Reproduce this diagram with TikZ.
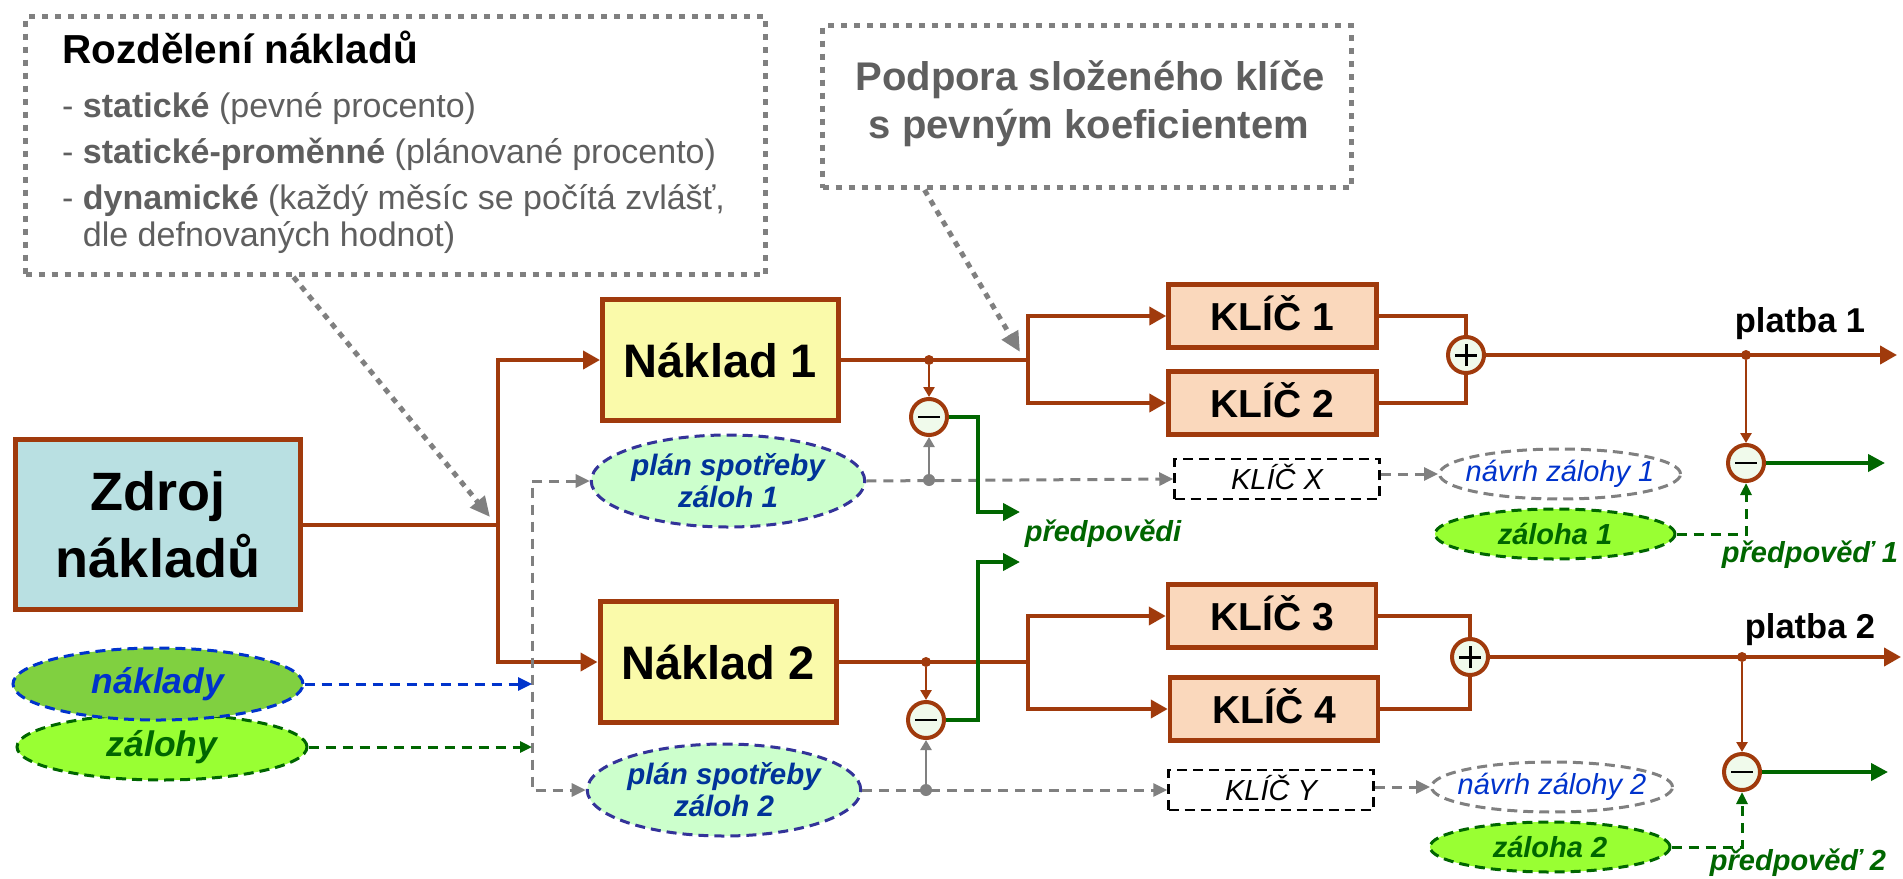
\documentclass[tikz,border=0pt]{standalone}
\usepackage{fontspec}
\setmainfont{Liberation Sans}
\usetikzlibrary{arrows.meta}
\usetikzlibrary{shapes.geometric}

\definecolor{brownc}{RGB}{160,58,12}
\definecolor{zdrojfill}{RGB}{185,224,226}
\definecolor{nakladfill}{RGB}{250,250,170}
\definecolor{klicfill}{RGB}{250,216,188}
\definecolor{planfill}{RGB}{204,255,204}
\definecolor{planedge}{RGB}{51,51,153}
\definecolor{plantext}{RGB}{0,51,153}
\definecolor{nakladyfill}{RGB}{128,208,64}
\definecolor{bluec}{RGB}{0,51,204}
\definecolor{limefill}{RGB}{153,255,51}
\definecolor{greenc}{RGB}{0,102,0}
\definecolor{grayc}{RGB}{128,128,128}
\definecolor{notetext}{RGB}{95,95,95}
\definecolor{circfill}{RGB}{240,250,235}

\tikzset{
box/.style={draw=brownc, line width=5pt, inner sep=0pt, align=center},
zdrojbox/.style={box, fill=zdrojfill, minimum width=285pt, minimum height=170pt, font=\fontsize{54}{67}\selectfont\bfseries},
nakladbox/.style={box, fill=nakladfill, minimum width=236pt, minimum height=121pt, text height=34pt, text depth=0pt, font=\fontsize{47}{56}\selectfont\bfseries},
klicbox/.style={box, line width=4.5pt, fill=klicfill, minimum width=208pt, minimum height=63pt, text height=28pt, text depth=0pt, font=\fontsize{39}{46}\selectfont\bfseries},
klicdash/.style={draw=black, line width=2.5pt, dash pattern=on 10pt off 6pt, fill=white, minimum width=205pt, minimum height=40pt, inner sep=0pt, text height=21pt, text depth=0pt, font=\fontsize{29}{34}\selectfont\itshape},
notebox/.style={draw=grayc, line width=5pt, dash pattern=on 6pt off 7pt},
notetitle/.style={anchor=base west, inner sep=0pt, font=\fontsize{40.5}{48}\selectfont\bfseries},
noteline/.style={anchor=base west, inner sep=0pt, text=notetext, font=\fontsize{34}{40}\selectfont},
podporaline/.style={anchor=base, inner sep=0pt, text=notetext, font=\fontsize{40}{48}\selectfont\bfseries},
plan/.style={ellipse, draw=planedge, fill=planfill, line width=3pt, dash pattern=on 10pt off 6pt, minimum width=269pt, minimum height=92pt, inner sep=0pt, align=center, text=plantext, font=\fontsize{29.5}{32}\selectfont\bfseries\itshape},
nakladyell/.style={ellipse, draw=bluec, fill=nakladyfill, line width=3pt, dash pattern=on 10pt off 6pt, minimum width=290pt, minimum height=72pt, inner sep=0pt, text=bluec, font=\fontsize{35.5}{40}\selectfont\bfseries\itshape},
zalohyell/.style={ellipse, draw=greenc, fill=limefill, line width=3pt, dash pattern=on 10pt off 6pt, minimum width=290pt, minimum height=66pt, inner sep=0pt, text=greenc, font=\fontsize{35.5}{40}\selectfont\bfseries\itshape},
zalohaell/.style={ellipse, draw=greenc, fill=limefill, line width=3pt, dash pattern=on 10pt off 6pt, minimum width=240pt, minimum height=50pt, inner sep=0pt, text=greenc, font=\fontsize{29}{34}\selectfont\bfseries\itshape},
navrhell/.style={ellipse, draw=grayc, fill=white, line width=3pt, dash pattern=on 10pt off 6pt, minimum width=241pt, minimum height=50pt, inner sep=0pt, text=bluec, font=\fontsize{29}{34}\selectfont\itshape},
sumnode/.style={circle, draw=brownc, fill=circfill, line width=4pt, minimum size=36pt, inner sep=0pt},
summinus/.style={sumnode, path picture={\draw[black, line width=2.5pt] ([xshift=-11pt]path picture bounding box.center) -- ([xshift=11pt]path picture bounding box.center);}},
sumplus/.style={sumnode, path picture={\draw[black, line width=3pt] ([xshift=-11pt]path picture bounding box.center) -- ([xshift=11pt]path picture bounding box.center) ([yshift=-11pt]path picture bounding box.center) -- ([yshift=11pt]path picture bounding box.center);}},
brdot/.style={circle, fill=brownc, inner sep=0pt, minimum size=10pt},
graydot/.style={circle, fill=grayc, inner sep=0pt, minimum size=12pt},
platba/.style={anchor=base, inner sep=0pt, font=\fontsize{34.5}{40}\selectfont\bfseries},
predlabel/.style={anchor=base, inner sep=0pt, text=greenc, font=\fontsize{29}{34}\selectfont\bfseries\itshape},
flow/.style={draw=brownc, line width=4pt},
flowarrow/.style={flow, -{Triangle[length=17pt,width=18pt]}},
taparrow/.style={draw=brownc, line width=2.5pt, -{Triangle[length=10pt,width=11pt]}},
greenarrow/.style={draw=greenc, line width=4pt, -{Triangle[length=17pt,width=17pt]}},
greendash/.style={draw=greenc, line width=3pt, dash pattern=on 10pt off 7pt, -{Triangle[length=12pt,width=11pt]}},
graydash/.style={draw=grayc, line width=3pt, dash pattern=on 10pt off 7pt},
grayarrow/.style={graydash, -{Triangle[length=14pt,width=13pt]}},
grayboth/.style={graydash, {Triangle[length=14pt,width=13pt]}-{Triangle[length=14pt,width=13pt]}},
grayup/.style={draw=grayc, line width=2.5pt, -{Triangle[length=10pt,width=11pt]}},
bluearrow/.style={draw=bluec, line width=3pt, dash pattern=on 10pt off 7pt, -{Triangle[length=14pt,width=13pt]}},
notearrow/.style={draw=grayc, line width=5pt, dash pattern=on 6pt off 6pt, -{Triangle[length=20pt,width=18pt]}}
}

\begin{document}
\begin{tikzpicture}[x=1pt,y=-1pt]
\fill[white] (0,0) rectangle (1903,878);
\useasboundingbox (0,0) rectangle (1903,878);

% notes
\node[notebox, minimum width=740pt, minimum height=258pt] (rozdeleni) at (395.5,145.5) {};
\node[notetitle] (rtitle) at (62,63) {Rozdělení nákladů};
\node[noteline] (rstat) at (62,117) {- \textbf{statické} (pevné procento)};
\node[noteline] (rstatvar) at (62,163) {- \textbf{statické-proměnné} (plánované procento)};
\node[noteline] (rdyn) at (62,209) {- \textbf{dynamické} (každý měsíc se počítá zvlášť,};
\node[noteline] (rdyn2) at (62,246) {\phantom{- }dle defnovaných hodnot)};
\node[notebox, minimum width=529pt, minimum height=162pt] (podpora) at (1087,106.5) {};
\node[podporaline] (ptext1) at (1090,90) {Podpora složeného klíče};
\node[podporaline] (ptext2) at (1089,138) {s pevným koeficientem};

% blocks
\node[zdrojbox] (zdroj) at (158,524.5) {Zdroj\\nákladů};
\node[nakladbox] (naklad1) at (720.5,360) {Náklad 1};
\node[nakladbox] (naklad2) at (718,662) {Náklad 2};
\node[klicbox] (klic1) at (1272.5,316) {KLÍČ 1};
\node[klicbox] (klic2) at (1272.5,403) {KLÍČ 2};
\node[klicbox] (klic3) at (1272,616) {KLÍČ 3};
\node[klicbox] (klic4) at (1274,709) {KLÍČ 4};
\node[klicdash] (klicx) at (1277,479) {KLÍČ X};
\node[klicdash] (klicy) at (1271,790) {KLÍČ Y};

\node[zalohyell] (zalohy) at (162,747) {zálohy};
\node[nakladyell] (naklady) at (158,684) {náklady};
\node[plan] (plan1) at (728,481) {plán spotřeby\\záloh 1};
\node[plan] (plan2) at (724,790) {plán spotřeby\\záloh 2};
\node[navrhell] (navrh1) at (1560,474) {\makebox[0pt]{návrh zálohy 1}};
\node[navrhell] (navrh2) at (1552,787) {\makebox[0pt]{návrh zálohy 2}};
\node[zalohaell] (zaloha1) at (1555,534) {záloha 1};
\node[zalohaell] (zaloha2) at (1550,847) {záloha 2};

\node[summinus] (m1) at (929,417) {};
\node[summinus] (m3) at (926,720) {};
\node[sumplus] (s1) at (1466,355) {};
\node[sumplus] (s2) at (1470,657) {};
\node[summinus] (m2) at (1746,463) {};
\node[summinus] (m4) at (1742,772) {};

\coordinate (bus) at (498,524.5);
\coordinate (br1) at (1028,360);
\coordinate (br2) at (1028,662);
\coordinate (fc1) at (978,512);
\coordinate (pred1) at (1020,512);
\coordinate (fc2) at (978,562);
\coordinate (pred2) at (1020,562);
\coordinate (out1) at (1897,355);
\coordinate (out2) at (1901,657);
\coordinate (pout1) at (1885,463);
\coordinate (pout2) at (1888,772);
\coordinate (gl) at (532,640);
\coordinate (noteend1) at (490,517);
\coordinate (noteend2) at (1020,352);

% brown flow
\draw[flow] (zdroj.east) -- (bus);
\draw[flowarrow] (bus) |- (naklad1.west);
\draw[flowarrow] (bus) |- (naklad2.west);
\draw[flow] (naklad1.east) -- (br1);
\draw[flowarrow] (br1) |- (klic1.west);
\draw[flowarrow] (br1) |- (klic2.west);
\draw[flow] (naklad2.east) -- (br2);
\draw[flowarrow] (br2) |- (klic3.west);
\draw[flowarrow] (br2) |- (klic4.west);
\draw[flow] (klic1.east) -| (s1.north);
\draw[flow] (klic2.east) -| (s1.south);
\draw[flow] (klic3.east) -| (s2.north);
\draw[flow] (klic4.east) -| (s2.south);
\draw[flowarrow] (s1.east) -- (out1);
\draw[flowarrow] (s2.east) -- (out2);

% grey plan lines
\draw[grayboth] (plan1.west) -| (gl) |- (plan2.west);
\draw[grayarrow] (plan1.east) -- (klicx.west);
\draw[grayarrow] (plan2.east) -- (klicy.west);
\draw[grayarrow] (klicx.east |- navrh1.west) -- (navrh1.west);
\draw[grayarrow] (klicy.east |- navrh2.west) -- (navrh2.west);
\draw[bluearrow] (naklady.east) -- (naklady.east -| gl);
\draw[greendash] (zalohy.east) -- (zalohy.east -| gl);

\node[brdot] (d1) at (929,360) {};
\node[brdot] (d3) at (926,662) {};
\node[brdot] (d2) at (1746,355) {};
\node[brdot] (d4) at (1742,657) {};
\node[graydot] (g1) at (929,480) {};
\node[graydot] (g3) at (926,790) {};
\draw[taparrow] (d1) -- (m1);
\draw[taparrow] (d3) -- (m3);
\draw[taparrow] (d2) -- (m2);
\draw[taparrow] (d4) -- (m4);
\draw[grayup] (g1) -- (m1);
\draw[grayup] (g3) -- (m3);

% forecasts
\draw[greenarrow] (m1.east) -| (fc1) -- (pred1);
\draw[greenarrow] (m3.east) -| (fc2) -- (pred2);
\draw[greenarrow] (m2.east) -- (pout1);
\draw[greenarrow] (m4.east) -- (pout2);
\draw[greendash] (zaloha1.east) -| (m2.south);
\draw[greendash] (zaloha2.east) -| (m4.south);

\node[predlabel] (lpred) at (1103,541) {předpovědi};
\node[predlabel] (lpred1) at (1810,562) {předpověď 1};
\node[predlabel] (lpred2) at (1798,870) {předpověď 2};
\node[platba] (lplatba1) at (1800,332) {platba 1};
\node[platba] (lplatba2) at (1810,638) {platba 2};

\draw[notearrow] ([xshift=270.5pt]rozdeleni.south west) -- (noteend1);
\draw[notearrow] ([xshift=104.5pt]podpora.south west) -- (noteend2);

\end{tikzpicture}
\end{document}
